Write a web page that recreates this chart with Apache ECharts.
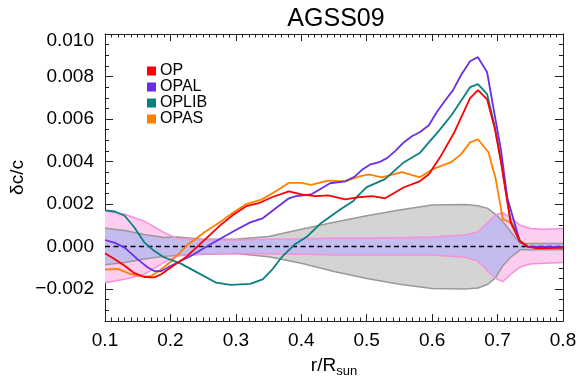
<!DOCTYPE html>
<html>
<head>
<meta charset="utf-8">
<script src="https://cdn.jsdelivr.net/npm/echarts@6/dist/echarts.min.js"></script>
<style>
html,body{margin:0;padding:0;background:#fff;}
#chart{width:581px;height:388px;}
</style>
</head>
<body>
<div id="chart"></div>
<script>
// ---- data ----
const opX   = [0.100,0.115,0.130,0.145,0.160,0.175,0.186,0.201,0.225,0.251,0.276,0.296,0.316,0.335,0.355,0.381,0.400,0.421,0.441,0.467,0.486,0.509,0.528,0.557,0.581,0.595,0.614,0.634,0.658,0.670,0.684,0.696,0.705,0.720,0.734,0.746,0.761,0.800];
const opY   = [-0.00031,-0.0006,-0.0009,-0.00125,-0.00143,-0.00145,-0.0013,-0.00097,-0.00046,0.00028,0.00100,0.0015,0.0019,0.00204,0.00232,0.0026,0.00246,0.00237,0.00241,0.00222,0.00232,0.00237,0.00227,0.00279,0.00307,0.0034,0.0043,0.00538,0.00698,0.00736,0.00693,0.00552,0.00401,0.00113,0.00025,0.0,-0.00008,-0.00005];

const opalX = [0.100,0.115,0.130,0.150,0.165,0.175,0.186,0.201,0.231,0.266,0.300,0.322,0.341,0.355,0.381,0.392,0.415,0.444,0.467,0.482,0.494,0.506,0.519,0.531,0.543,0.557,0.569,0.581,0.595,0.607,0.619,0.632,0.644,0.658,0.670,0.684,0.694,0.705,0.715,0.734,0.746,0.800];
const opalY = [0.00031,0.00018,-0.00005,-0.0006,-0.00097,-0.00115,-0.00115,-0.0009,-0.00044,0.00019,0.00078,0.00114,0.00133,0.00166,0.00227,0.00237,0.00245,0.00298,0.00307,0.0033,0.00364,0.00387,0.00397,0.00416,0.00448,0.00491,0.00519,0.00538,0.00571,0.00632,0.00684,0.00736,0.00806,0.00872,0.00891,0.0082,0.00646,0.00458,0.00227,0.00025,0.0,-0.00003];

const oplibX = [0.100,0.115,0.130,0.145,0.160,0.175,0.190,0.216,0.240,0.270,0.292,0.322,0.341,0.355,0.370,0.390,0.410,0.430,0.460,0.479,0.486,0.500,0.528,0.557,0.581,0.595,0.610,0.630,0.658,0.670,0.684,0.696,0.705,0.720,0.734,0.746,0.761,0.800];
const oplibY = [0.0017,0.00165,0.00145,0.0009,0.0002,-0.0002,-0.0005,-0.0008,-0.0012,-0.0017,-0.0018,-0.00175,-0.00154,-0.0011,-0.0005,0.0001,0.0005,0.0011,0.00176,0.00213,0.00237,0.0028,0.00317,0.00397,0.0044,0.0049,0.00543,0.0062,0.0075,0.00764,0.00717,0.0056,0.0041,0.0012,0.00025,0.0,-0.00006,-0.00004];

const opasX = [0.100,0.119,0.140,0.155,0.170,0.180,0.201,0.225,0.251,0.276,0.296,0.316,0.340,0.361,0.381,0.400,0.415,0.441,0.467,0.489,0.503,0.523,0.554,0.581,0.601,0.629,0.644,0.658,0.670,0.686,0.697,0.708,0.722,0.734,0.746,0.800];
const opasY = [-0.00108,-0.00105,-0.0013,-0.0014,-0.0014,-0.0012,-0.0007,0.00005,0.00065,0.00116,0.0016,0.002,0.00222,0.0026,0.003,0.003,0.0029,0.0031,0.00307,0.0033,0.0034,0.00326,0.0035,0.00326,0.00364,0.00397,0.00434,0.0049,0.00505,0.00444,0.0032,0.0013,0.0011,0.0003,0.0,-0.00003];

// uncertainty bands
const bandX  = [0.10,0.13,0.16,0.19,0.21,0.25,0.30,0.35,0.40,0.45,0.50,0.55,0.60,0.65,0.67,0.685,0.697,0.708,0.72,0.735,0.75,0.77,0.80];
const grayHi = [0.00086,0.00076,0.00057,0.00043,0.00045,0.00035,0.00034,0.00048,0.00082,0.00114,0.00145,0.00172,0.00196,0.00198,0.00192,0.0018,0.00152,0.00118,0.0007,0.00014,0.00014,0.00014,0.00014];
const grayLo = [-0.00085,-0.00075,-0.00058,-0.00046,-0.00042,-0.00036,-0.00033,-0.00048,-0.00078,-0.00117,-0.0015,-0.00177,-0.00197,-0.002,-0.00195,-0.00177,-0.00146,-0.0009,-0.0005,-0.00015,-0.00015,-0.00015,-0.00015];
const pinkHi = [0.00168,0.00152,0.0012,0.00067,0.00038,0.00031,0.00031,0.00034,0.00036,0.0004,0.0004,0.00042,0.00045,0.00055,0.0007,0.00113,0.00149,0.0016,0.00135,0.001,0.00085,0.00082,0.00085];
const pinkLo = [-0.0017,-0.00154,-0.0013,-0.00075,-0.00044,-0.00035,-0.00033,-0.00034,-0.00036,-0.0004,-0.0004,-0.0004,-0.0004,-0.0005,-0.00068,-0.00115,-0.0015,-0.00165,-0.0013,-0.00095,-0.00082,-0.00078,-0.00075];

const zeroX = [0.1, 0.8];
const zeroY = [0, 0];

const xTicks = [0.1,0.2,0.3,0.4,0.5,0.6,0.7,0.8];
const yTicks = [-0.002,0.000,0.002,0.004,0.006,0.008,0.010];

// ---- chart ----
const zip = (xs, ys) => xs.map((x, i) => [x, ys[i]]);
const FONT = 'Liberation Sans, Arial, Helvetica, sans-serif';
const chart = echarts.init(document.getElementById('chart'), null, {renderer: 'canvas'});

const lavHi = bandX.map((x, i) => Math.min(grayHi[i], pinkHi[i]));
const lavLo = bandX.map((x, i) => Math.max(grayLo[i], pinkLo[i]));

function bandRender(params, api) {
  if (params.dataIndex !== 0) return null;
  const line = arr => bandX.map((x, i) => api.coord([x, arr[i]]));
  const poly = (hi, lo) => line(hi).concat(line(lo).reverse());
  return {
    type: 'group',
    children: [
      {type: 'polygon', shape: {points: poly(grayHi, grayLo)}, style: {fill: '#d4d4d4'}},
      {type: 'polygon', shape: {points: poly(pinkHi, pinkLo)}, style: {fill: '#fccdef'}},
      {type: 'polygon', shape: {points: poly(lavHi, lavLo)}, style: {fill: '#c4bcee'}},
      {type: 'polyline', shape: {points: line(grayHi)}, style: {stroke: '#999999', lineWidth: 1.5, fill: null}},
      {type: 'polyline', shape: {points: line(grayLo)}, style: {stroke: '#999999', lineWidth: 1.5, fill: null}},
      {type: 'polyline', shape: {points: line(pinkHi)}, style: {stroke: '#f590dc', lineWidth: 1.5, fill: null}},
      {type: 'polyline', shape: {points: line(pinkLo)}, style: {stroke: '#f590dc', lineWidth: 1.5, fill: null}}
    ]
  };
}

const fmtY = v => {
  const s = Math.abs(v).toFixed(3);
  const t = (v < -1e-9 ? '\u2212' : '') + s;
  return v > 0.0099 ? '{top|' + t + '}' : t;
};

const AX = '#222';
const yBase = {type: 'value', min: -0.0035, max: 0.010, interval: 0.0005, splitLine: {show: false},
               axisLine: {show: true, onZero: false, lineStyle: {color: AX, width: 1}}};
const xBase = {type: 'value', min: 0.1, max: 0.8, interval: 0.1, splitLine: {show: false},
               axisLine: {show: true, onZero: false, lineStyle: {color: AX, width: 1}}};

const lineSeries = (name, xs, ys, color) => ({
  name, type: 'line', data: zip(xs, ys), showSymbol: false, symbol: 'none',
  lineStyle: {color, width: 1.8}, itemStyle: {color}, z: 5, animation: false
});

chart.setOption({
  animation: false,
  backgroundColor: '#fff',
  textStyle: {fontFamily: FONT},
  title: {text: 'AGSS09', left: 331, textAlign: 'center', top: 2,
          textStyle: {fontSize: 25, fontWeight: 'normal', color: '#000', fontFamily: FONT}},
  grid: {left: 99, right: 18, top: 34, bottom: 67, show: false},
  legend: {data: ['OP','OPAL','OPLIB','OPAS'], orient: 'vertical', left: 142, top: 58, icon: 'rect',
           itemWidth: 9, itemHeight: 9, itemGap: 0,
           textStyle: {fontSize: 16, color: '#000', fontFamily: FONT, padding: [0,0,0,-1]}},
  xAxis: [
    Object.assign({}, xBase, {position: 'bottom',
      axisTick: {show: true, inside: true, length: 7, lineStyle: {color: AX, width: 1}},
      minorTick: {show: true, splitNumber: 10, length: 3.5, lineStyle: {color: AX, width: 1}},
      axisLabel: {show: true, fontSize: 19, color: '#000', margin: 10, fontFamily: FONT,
                  formatter: v => v.toFixed(1)},
      name: '{a|r/R}{b|sun}', nameLocation: 'middle', nameGap: 35,
      nameTextStyle: {rich: {a: {fontSize: 19, color: '#000', fontFamily: FONT, lineHeight: 22, verticalAlign: 'top'},
                             b: {fontSize: 13, color: '#000', fontFamily: FONT, lineHeight: 22, verticalAlign: 'bottom', padding: [10,0,0,0]}}}
    }),
    Object.assign({}, xBase, {position: 'top',
      axisTick: {show: true, inside: true, length: 7, lineStyle: {color: AX, width: 1}},
      minorTick: {show: true, splitNumber: 10, length: 3.5, lineStyle: {color: AX, width: 1}},
      axisLabel: {show: false}})
  ],
  yAxis: [
    Object.assign({}, yBase, {position: 'left',
      axisTick: {show: true, inside: true, length: 4, lineStyle: {color: AX, width: 1}},
      axisLabel: {show: false},
      name: 'δc/c', nameLocation: 'middle', nameGap: 78, nameRotate: 90,
      nameTextStyle: {fontSize: 19, color: '#000', fontFamily: FONT}}),
    Object.assign({}, yBase, {position: 'left',
      axisTick: {show: true, inside: true, length: 8, customValues: yTicks, lineStyle: {color: AX, width: 1}},
      axisLabel: {show: true, customValues: yTicks, fontSize: 19, color: '#000', margin: 11, fontFamily: FONT,
                  formatter: fmtY, rich: {top: {fontSize: 19, color: '#000', fontFamily: FONT, padding: [14,0,0,0]}}}}),
    Object.assign({}, yBase, {position: 'right',
      axisTick: {show: true, inside: true, length: 4, lineStyle: {color: AX, width: 1}},
      axisLabel: {show: false}}),
    Object.assign({}, yBase, {position: 'right',
      axisTick: {show: true, inside: true, length: 8, customValues: yTicks, lineStyle: {color: AX, width: 1}},
      axisLabel: {show: false}})
  ],
  series: [
    {type: 'custom', name: 'bands', renderItem: bandRender, data: [[bandX[0], 0]], z: 1, silent: true, animation: false, clip: true},
    {type: 'line', name: 'zero', data: zip(zeroX, zeroY), showSymbol: false, symbol: 'none',
     lineStyle: {color: '#000', width: 1.5, type: [5, 3.5]}, z: 3, animation: false},
    lineSeries('OPAS', opasX, opasY, '#ff8000'),
    lineSeries('OPLIB', oplibX, oplibY, '#0a8080'),
    lineSeries('OPAL', opalX, opalY, '#6a2ee6'),
    lineSeries('OP', opX, opY, '#ff0000')
  ]
});
</script>
</body>
</html>
